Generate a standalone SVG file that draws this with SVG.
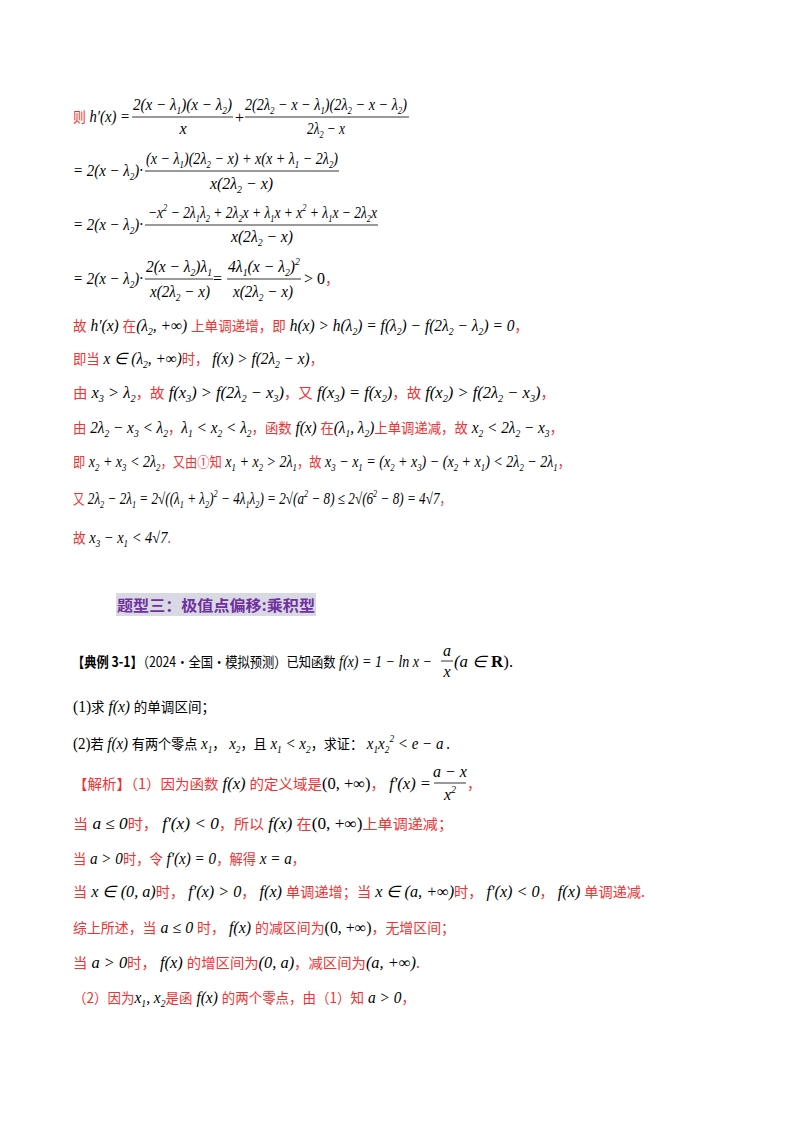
<svg xmlns="http://www.w3.org/2000/svg" width="800" height="1132" viewBox="0 0 800 1132">
<style>
text{font-family:"Liberation Serif","Times New Roman",serif;font-size:16px;fill:#000}
.r{fill:#f03232;font-family:"Noto Sans CJK SC",sans-serif;font-size:14px;font-style:normal}
.k{fill:#000;font-family:"Noto Sans CJK SC",sans-serif;font-size:14px;font-style:normal}
.i{font-style:italic}
.s{font-size:10px;baseline-shift:-4px}
.p{font-size:10px;baseline-shift:7px}
line{stroke:#000;stroke-width:0.8}
</style>
<rect width="800" height="1132" fill="#fff"/>
<text x="73" y="122" textLength="57" lengthAdjust="spacingAndGlyphs"><tspan class="r">则</tspan><tspan class="i"> h′(x) =</tspan></text>
<text class="i" x="133" y="110" textLength="99" lengthAdjust="spacingAndGlyphs">2(x − λ<tspan class="s">1</tspan>)(x − λ<tspan class="s">2</tspan>)</text>
<line x1="132" y1="117" x2="233" y2="117"/>
<text class="i" x="183" y="134" text-anchor="middle">x</text>
<text x="235" y="123">+</text>
<text class="i" x="245" y="110" textLength="162" lengthAdjust="spacingAndGlyphs">2(2λ<tspan class="s">2</tspan> − x − λ<tspan class="s">1</tspan>)(2λ<tspan class="s">2</tspan> − x − λ<tspan class="s">2</tspan>)</text>
<line x1="245" y1="117" x2="409" y2="117"/>
<text class="i" x="307" y="134" textLength="38" lengthAdjust="spacingAndGlyphs">2λ<tspan class="s">2</tspan> − x</text>

<text class="i" x="73" y="176" textLength="70" lengthAdjust="spacingAndGlyphs">= 2(x − λ<tspan class="s">2</tspan>)·</text>
<text class="i" x="146" y="164" textLength="192" lengthAdjust="spacingAndGlyphs">(x − λ<tspan class="s">1</tspan>)(2λ<tspan class="s">2</tspan> − x) + x(x + λ<tspan class="s">1</tspan> − 2λ<tspan class="s">2</tspan>)</text>
<line x1="145" y1="171" x2="339" y2="171"/>
<text class="i" x="210" y="189" textLength="63" lengthAdjust="spacingAndGlyphs">x(2λ<tspan class="s">2</tspan> − x)</text>

<text class="i" x="73" y="230" textLength="70" lengthAdjust="spacingAndGlyphs">= 2(x − λ<tspan class="s">2</tspan>)·</text>
<text class="i" x="148" y="218" textLength="229" lengthAdjust="spacingAndGlyphs">−x<tspan class="p">2</tspan> − 2λ<tspan class="s">1</tspan>λ<tspan class="s">2</tspan> + 2λ<tspan class="s">2</tspan>x + λ<tspan class="s">1</tspan>x + x<tspan class="p">2</tspan> + λ<tspan class="s">1</tspan>x − 2λ<tspan class="s">2</tspan>x</text>
<line x1="145" y1="225" x2="378" y2="225"/>
<text class="i" x="231" y="242" textLength="62" lengthAdjust="spacingAndGlyphs">x(2λ<tspan class="s">2</tspan> − x)</text>

<text class="i" x="73" y="284" textLength="70" lengthAdjust="spacingAndGlyphs">= 2(x − λ<tspan class="s">2</tspan>)·</text>
<text class="i" x="146" y="272" textLength="66" lengthAdjust="spacingAndGlyphs">2(x − λ<tspan class="s">2</tspan>)λ<tspan class="s">1</tspan></text>
<line x1="145" y1="279" x2="213" y2="279"/>
<text class="i" x="150" y="297" textLength="60" lengthAdjust="spacingAndGlyphs">x(2λ<tspan class="s">2</tspan> − x)</text>
<text x="213" y="284">=</text>
<text class="i" x="228" y="272" textLength="72" lengthAdjust="spacingAndGlyphs">4λ<tspan class="s">1</tspan>(x − λ<tspan class="s">2</tspan>)<tspan class="p">2</tspan></text>
<line x1="227" y1="279" x2="301" y2="279"/>
<text class="i" x="233" y="297" textLength="60" lengthAdjust="spacingAndGlyphs">x(2λ<tspan class="s">2</tspan> − x)</text>
<text x="304" y="284">&gt; 0<tspan class="r">，</tspan></text>

<text x="73" y="331" textLength="455" lengthAdjust="spacingAndGlyphs"><tspan class="r">故</tspan><tspan class="i"> h′(x) </tspan><tspan class="r">在</tspan><tspan class="i">(λ<tspan class="s">2</tspan>, +∞) </tspan><tspan class="r">上单调递增，即</tspan><tspan class="i"> h(x) &gt; h(λ<tspan class="s">2</tspan>) = f(λ<tspan class="s">2</tspan>) − f(2λ<tspan class="s">2</tspan> − λ<tspan class="s">2</tspan>) = 0</tspan><tspan class="r">，</tspan></text>
<text x="73" y="364" textLength="250" lengthAdjust="spacingAndGlyphs"><tspan class="r">即当</tspan><tspan class="i"> x ∈ (λ<tspan class="s">2</tspan>, +∞)</tspan><tspan class="r">时，</tspan><tspan class="i"> f(x) &gt; f(2λ<tspan class="s">2</tspan> − x)</tspan><tspan class="r">，</tspan></text>
<text x="73" y="398" textLength="482" lengthAdjust="spacingAndGlyphs"><tspan class="r">由</tspan><tspan class="i"> x<tspan class="s">3</tspan> &gt; λ<tspan class="s">2</tspan></tspan><tspan class="r">，故</tspan><tspan class="i"> f(x<tspan class="s">3</tspan>) &gt; f(2λ<tspan class="s">2</tspan> − x<tspan class="s">3</tspan>)</tspan><tspan class="r">，又</tspan><tspan class="i"> f(x<tspan class="s">3</tspan>) = f(x<tspan class="s">2</tspan>)</tspan><tspan class="r">，故</tspan><tspan class="i"> f(x<tspan class="s">2</tspan>) &gt; f(2λ<tspan class="s">2</tspan> − x<tspan class="s">3</tspan>)</tspan><tspan class="r">，</tspan></text>
<text x="73" y="433" textLength="490" lengthAdjust="spacingAndGlyphs"><tspan class="r">由</tspan><tspan class="i"> 2λ<tspan class="s">2</tspan> − x<tspan class="s">3</tspan> &lt; λ<tspan class="s">2</tspan></tspan><tspan class="r">，</tspan><tspan class="i">λ<tspan class="s">1</tspan> &lt; x<tspan class="s">2</tspan> &lt; λ<tspan class="s">2</tspan></tspan><tspan class="r">，函数</tspan><tspan class="i"> f(x) </tspan><tspan class="r">在</tspan><tspan class="i">(λ<tspan class="s">1</tspan>, λ<tspan class="s">2</tspan>)</tspan><tspan class="r">上单调递减，故</tspan><tspan class="i"> x<tspan class="s">2</tspan> &lt; 2λ<tspan class="s">2</tspan> − x<tspan class="s">3</tspan></tspan><tspan class="r">，</tspan></text>
<text x="73" y="467" textLength="497" lengthAdjust="spacingAndGlyphs"><tspan class="r">即</tspan><tspan class="i"> x<tspan class="s">2</tspan> + x<tspan class="s">3</tspan> &lt; 2λ<tspan class="s">2</tspan></tspan><tspan class="r">，又由①知</tspan><tspan class="i"> x<tspan class="s">1</tspan> + x<tspan class="s">2</tspan> &gt; 2λ<tspan class="s">1</tspan></tspan><tspan class="r">，故</tspan><tspan class="i"> x<tspan class="s">3</tspan> − x<tspan class="s">1</tspan> = (x<tspan class="s">2</tspan> + x<tspan class="s">3</tspan>) − (x<tspan class="s">2</tspan> + x<tspan class="s">1</tspan>) &lt; 2λ<tspan class="s">2</tspan> − 2λ<tspan class="s">1</tspan></tspan><tspan class="r">，</tspan></text>
<text x="73" y="504" textLength="378" lengthAdjust="spacingAndGlyphs"><tspan class="r">又</tspan><tspan class="i"> 2λ<tspan class="s">2</tspan> − 2λ<tspan class="s">1</tspan> = 2√((λ<tspan class="s">1</tspan> + λ<tspan class="s">2</tspan>)<tspan class="p">2</tspan> − 4λ<tspan class="s">1</tspan>λ<tspan class="s">2</tspan>) = 2√(a<tspan class="p">2</tspan> − 8) ≤ 2√(6<tspan class="p">2</tspan> − 8) = 4√7</tspan><tspan class="r">，</tspan></text>
<text x="73" y="543" textLength="98" lengthAdjust="spacingAndGlyphs"><tspan class="r">故</tspan><tspan class="i"> x<tspan class="s">3</tspan> − x<tspan class="s">1</tspan> &lt; 4√7</tspan><tspan class="r">.</tspan></text>

<g id="heading">
<rect x="116" y="593" width="200" height="23" fill="#d9d9e3"/>
<text x="117" y="611" textLength="198" lengthAdjust="spacingAndGlyphs" style="font-family:'Noto Sans CJK SC',sans-serif;font-size:15px;font-weight:bold;fill:#7030a0">题型三：极值点偏移:乘积型</text>
</g>

<text x="72" y="667" textLength="360" lengthAdjust="spacingAndGlyphs"><tspan class="k" font-weight="bold">【典例 3-1】</tspan><tspan class="k">（2024·全国·模拟预测）已知函数</tspan><tspan class="i"> f(x) = 1 − ln x −</tspan></text>
<text class="i" x="447" y="656" text-anchor="middle">a</text>
<line x1="441" y1="661" x2="453" y2="661"/>
<text class="i" x="447" y="677" text-anchor="middle">x</text>
<text x="454" y="667" textLength="59" lengthAdjust="spacingAndGlyphs"><tspan class="i">(a ∈ </tspan><tspan font-weight="bold">R</tspan>)<tspan class="k">.</tspan></text>
<text x="73" y="712" textLength="142" lengthAdjust="spacingAndGlyphs">(1)<tspan class="k">求</tspan><tspan class="i"> f(x) </tspan><tspan class="k">的单调区间；</tspan></text>
<text x="73" y="749" textLength="377" lengthAdjust="spacingAndGlyphs">(2)<tspan class="k">若</tspan><tspan class="i"> f(x) </tspan><tspan class="k">有两个零点</tspan><tspan class="i"> x<tspan class="s">1</tspan></tspan><tspan class="k">，</tspan><tspan class="i"> x<tspan class="s">2</tspan></tspan><tspan class="k">，且</tspan><tspan class="i"> x<tspan class="s">1</tspan> &lt; x<tspan class="s">2</tspan></tspan><tspan class="k">，求证：</tspan><tspan class="i"> x<tspan class="s">1</tspan>x<tspan class="s">2</tspan><tspan class="p">2</tspan> &lt; e − a</tspan><tspan class="k"> .</tspan></text>

<text x="73" y="789" textLength="358" lengthAdjust="spacingAndGlyphs"><tspan class="r">【解析】（1）因为函数</tspan><tspan class="i"> f(x) </tspan><tspan class="r">的定义域是</tspan>(0, +∞)<tspan class="r">，</tspan><tspan class="i"> f′(x) =</tspan></text>
<text class="i" x="450" y="777" text-anchor="middle">a − x</text>
<line x1="434" y1="783" x2="466" y2="783"/>
<text class="i" x="450" y="800" text-anchor="middle">x<tspan class="p">2</tspan></text>
<text class="r" x="467" y="789">，</text>
<text x="73" y="829" textLength="380" lengthAdjust="spacingAndGlyphs"><tspan class="r">当</tspan><tspan class="i"> a ≤ 0</tspan><tspan class="r">时，</tspan><tspan class="i"> f′(x) &lt; 0</tspan><tspan class="r">，所以</tspan><tspan class="i"> f(x) </tspan><tspan class="r">在</tspan>(0, +∞)<tspan class="r">上单调递减；</tspan></text>
<text x="73" y="864" textLength="232" lengthAdjust="spacingAndGlyphs"><tspan class="r">当</tspan><tspan class="i"> a &gt; 0</tspan><tspan class="r">时，令</tspan><tspan class="i"> f′(x) = 0</tspan><tspan class="r">，解得</tspan><tspan class="i"> x = a</tspan><tspan class="r">，</tspan></text>
<text x="73" y="897" textLength="572" lengthAdjust="spacingAndGlyphs"><tspan class="r">当</tspan><tspan class="i"> x ∈ (0, a)</tspan><tspan class="r">时，</tspan><tspan class="i"> f′(x) &gt; 0</tspan><tspan class="r">，</tspan><tspan class="i"> f(x) </tspan><tspan class="r">单调递增；当</tspan><tspan class="i"> x ∈ (a, +∞)</tspan><tspan class="r">时，</tspan><tspan class="i"> f′(x) &lt; 0</tspan><tspan class="r">，</tspan><tspan class="i"> f(x) </tspan><tspan class="r">单调递减.</tspan></text>
<text x="73" y="933" textLength="382" lengthAdjust="spacingAndGlyphs"><tspan class="r">综上所述，当</tspan><tspan class="i"> a ≤ 0 </tspan><tspan class="r">时，</tspan><tspan class="i"> f(x) </tspan><tspan class="r">的减区间为</tspan>(0, +∞)<tspan class="r">，无增区间；</tspan></text>
<text x="73" y="968" textLength="347" lengthAdjust="spacingAndGlyphs"><tspan class="r">当</tspan><tspan class="i"> a &gt; 0</tspan><tspan class="r">时，</tspan><tspan class="i"> f(x) </tspan><tspan class="r">的增区间为</tspan><tspan class="i">(0, a)</tspan><tspan class="r">，减区间为</tspan><tspan class="i">(a, +∞)</tspan><tspan class="r">.</tspan></text>
<text x="73" y="1003" textLength="342" lengthAdjust="spacingAndGlyphs"><tspan class="r">（2）因为</tspan><tspan class="i">x<tspan class="s">1</tspan>, x<tspan class="s">2</tspan></tspan><tspan class="r">是函</tspan><tspan class="i"> f(x) </tspan><tspan class="r">的两个零点，由（1）知</tspan><tspan class="i"> a &gt; 0</tspan><tspan class="r">，</tspan></text>
</svg>
